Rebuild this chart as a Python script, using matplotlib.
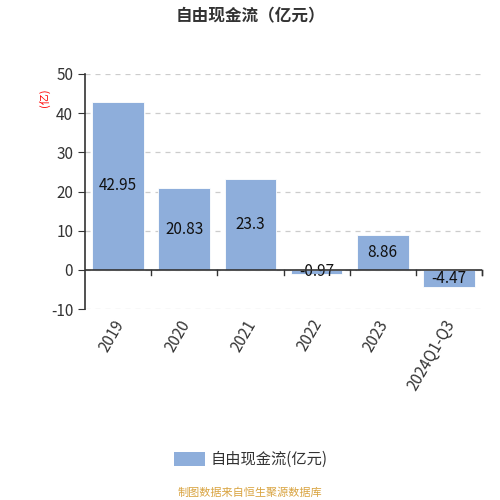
import matplotlib
matplotlib.use("Agg")
import matplotlib.pyplot as plt
from matplotlib.patches import Rectangle
import numpy as np

plt.rcParams['font.family'] = ['Noto Sans CJK SC', 'DejaVu Sans']

categories = ["2019", "2020", "2021", "2022", "2023", "2024Q1-Q3"]
values = [42.95, 20.83, 23.3, -0.97, 8.86, -4.47]
labels = ["42.95", "20.83", "23.3", "-0.97", "8.86", "-4.47"]
yticks = [-10, 0, 10, 20, 30, 40, 50]

bar_color = "#8eaedb"
fig = plt.figure(figsize=(5, 5), dpi=100)
ax = fig.add_axes([0.17, 0.382, 0.794, 0.47])

x = np.arange(len(categories))
ax.bar(x, values, width=0.78, color=bar_color, edgecolor="white", linewidth=0.6, zorder=3)
for xi, v, lab in zip(x, values, labels):
    ax.text(xi, v / 2, lab, ha="center", va="center", fontsize=11, color="#111111", zorder=4)

ax.set_xlim(-0.5, len(categories) - 0.5)
ax.set_ylim(-10, 50)
ax.set_yticks(yticks)
ax.set_yticklabels([str(t) for t in yticks], fontsize=11, color="#333333")
ax.grid(axis="y", linestyle=(0, (4, 4)), color="#cccccc", linewidth=0.9, zorder=0)

for s in ["top", "right", "bottom"]:
    ax.spines[s].set_visible(False)
ax.spines["left"].set_color("#333333")
ax.spines["left"].set_linewidth(1.2)
ax.axhline(0, color="#333333", linewidth=1.2, zorder=5)

ax.set_xticks([])
for b in np.arange(0.5, len(categories), 1.0):
    ax.plot([b, b], [0, -1.2], color="#333333", linewidth=1.0, clip_on=False, zorder=5)
ax.plot([len(categories) - 0.5] * 2, [0, -1.2], color="#333333", linewidth=1.0, clip_on=False, zorder=5)
ax.tick_params(axis="y", length=5, color="#333333")

for xi, c in zip(x, categories):
    ax.text(xi - 0.08, -12.0, c, rotation=60, ha="right", va="top", fontsize=11,
            color="#333333", rotation_mode="anchor")

fig.text(0.088, 0.805, "(亿)", rotation=90, color="red", fontsize=8, ha="center", va="center")

fig.text(0.5, 0.968, "自由现金流（亿元）", ha="center", va="center", fontsize=12,
         fontweight="bold", color="#333333")

fig.patches.append(Rectangle((0.348, 0.068), 0.062, 0.028, transform=fig.transFigure,
                             facecolor=bar_color, edgecolor="none"))
fig.text(0.422, 0.082, "自由现金流(亿元)", ha="left", va="center", fontsize=11, color="#333333")
fig.text(0.5, 0.015, "制图数据来自恒生聚源数据库", ha="center", va="center", fontsize=8, color="#d9a441")

fig.savefig("out.png", dpi=100)
